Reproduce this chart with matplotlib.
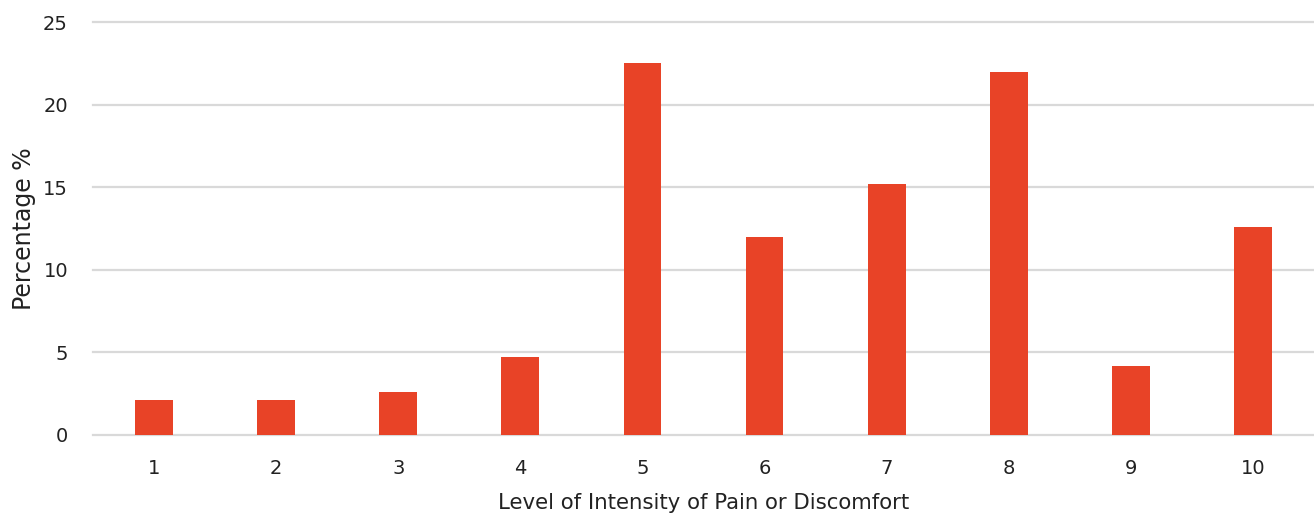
import matplotlib.pyplot as plt

levels = ["1", "2", "3", "4", "5", "6", "7", "8", "9", "10"]
percent = [2.1, 2.1, 2.6, 4.7, 22.5, 12.0, 15.2, 22.0, 4.2, 12.6]

plt.rcParams["font.family"] = ["DejaVu Sans"]

fig = plt.figure(figsize=(13.14, 5.17), dpi=100)
ax = fig.add_axes([93 / 1314, 82 / 517, 1 - 93 / 1314, 413 / 517])

x = range(1, len(levels) + 1)
ax.bar(x, percent, width=0.31, color="#e84327", zorder=3)

ax.set_xlim(0.5, 10.5)
ax.set_ylim(0, 25)
ax.set_yticks([0, 5, 10, 15, 20, 25])
ax.set_xticks(list(x))
ax.set_xticklabels(levels)

ax.grid(axis="y", color="#d9d9d9", linewidth=1.6, zorder=0)
for gl in ax.get_ygridlines():
    gl.set_clip_on(False)
ax.set_axisbelow(True)
for s in ax.spines.values():
    s.set_visible(False)
ax.tick_params(length=0, labelsize=14, colors="#222222")
ax.tick_params(axis="x", pad=17)
ax.tick_params(axis="y", pad=18)

ax.set_xlabel("Level of Intensity of Pain or Discomfort", fontsize=15.3, color="#222222", labelpad=11)
ax.set_ylabel("Percentage %", fontsize=17, color="#222222", labelpad=5)

fig.savefig("out.png", dpi=100)
